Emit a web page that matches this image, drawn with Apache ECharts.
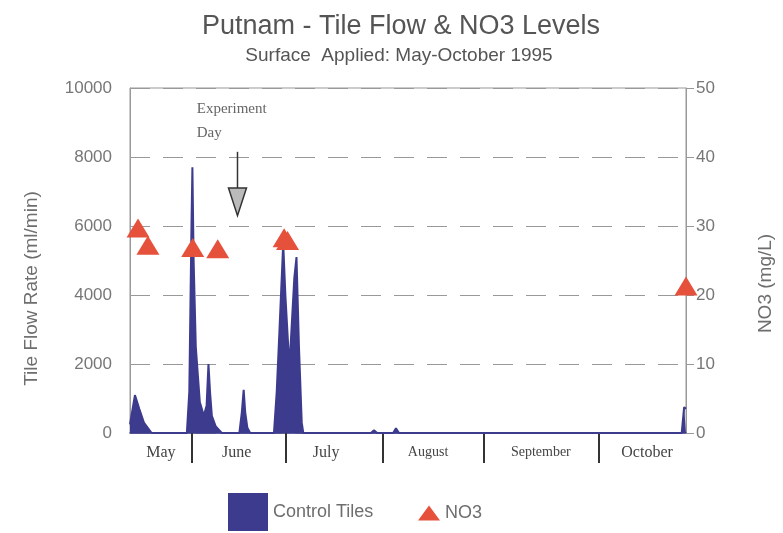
<!DOCTYPE html>
<html>
<head>
<meta charset="utf-8">
<script src="https://cdn.jsdelivr.net/npm/echarts@6/dist/echarts.min.js"></script>
<style>
  html, body { margin: 0; padding: 0; background: #fff; }
  #chart { width: 783px; height: 533px; }
</style>
</head>
<body>
<div id="chart"></div>
<script>
  // x is counted in days along the plotted season
  var flowDays   = [0, 1.6, 3, 4.5, 7,
                    18.4, 19.2, 19.9, 20.2, 20.6, 21.3, 22.6, 23.9, 24.8, 25.4, 25.9, 26.5, 27.7, 29.7,
                    35.4, 36.2, 36.8, 37.3, 38, 38.9,
                    46.6, 47.5, 48.4, 49.6, 50.3, 51.6, 53.2, 53.9, 54.7, 55.6, 56.1,
                    78, 79, 80, 85.2, 86.1, 87.1, 178.6, 179.4, 180];
  var flowValues = [250, 1100, 700, 300, 0,
                    0, 1200, 6000, 7700, 5000, 2500, 900, 500, 800, 2000, 1200, 500, 200, 0,
                    0, 600, 1250, 600, 150, 0,
                    0, 1200, 3000, 5500, 4000, 1900, 4500, 5100, 2500, 300, 0,
                    0, 80, 0, 0, 140, 0, 0, 750, 700];

  var no3Days   = [2.6, 5.8, 20.3, 28.4, 49.9, 51.0, 180];
  var no3Values = [29.7, 27.2, 26.9, 26.7, 28.3, 27.9, 21.3];

  var monthNames     = ['May', 'June', 'July', 'August', 'September', 'October'];
  var monthLabelDays = [10, 34.5, 63.5, 96.5, 133, 167.4];
  var monthBreakDays = [20, 50.3, 81.9, 114.5, 151.6];

  var experimentDay = 34.8;

  var navy = '#3d3b8e';
  var red = '#e5513b';
  var textGray = '#6e6e6e';

  function pairs(xs, ys) {
    return xs.map(function(x, i) { return [x, ys[i]]; });
  }

  var option = {
    animation: false,
    backgroundColor: '#fff',
    title: [{
      text: 'Putnam - Tile Flow & NO3 Levels',
      left: 396, top: 8, textAlign: 'center',
      textStyle: { fontFamily: 'Liberation Sans', fontSize: 27, fontWeight: 'normal', color: '#555' }
    }, {
      text: 'Surface  Applied: May-October 1995',
      left: 394, top: 41, textAlign: 'center',
      textStyle: { fontFamily: 'Liberation Sans', fontSize: 19, fontWeight: 'normal', color: '#555' }
    }],
    legend: [{
      data: ['Control Tiles'],
      left: 228, top: 493, padding: 0,
      icon: 'rect', itemWidth: 40, itemHeight: 38,
      textStyle: { fontFamily: 'Liberation Sans', fontSize: 18, color: textGray }
    }, {
      data: ['NO3'],
      left: 418, top: 504, padding: 0,
      icon: 'triangle', itemWidth: 22, itemHeight: 15,
      textStyle: { fontFamily: 'Liberation Sans', fontSize: 18, color: textGray }
    }],
    grid: {
      left: 130, right: 95, top: 88, bottom: 100,
      show: true, borderColor: '#999', borderWidth: 1
    },
    xAxis: {
      type: 'value', min: 0, max: 180,
      axisLine: { lineStyle: { color: navy, width: 1.5 } },
      axisTick: {
        show: true, customValues: monthBreakDays, length: 30,
        lineStyle: { color: '#333', width: 2 }
      },
      axisLabel: {
        customValues: monthLabelDays, margin: 12,
        fontFamily: 'Liberation Serif', fontSize: 16, color: '#444',
        formatter: function(v) {
          var name = monthNames[monthLabelDays.indexOf(v)];
          return name === 'August' || name === 'September' ? '{s|' + name + '}' : name;
        },
        rich: { s: { fontFamily: 'Liberation Serif', fontSize: 14, color: '#444' } }
      },
      splitLine: { show: false }
    },
    yAxis: [{
      type: 'value', min: 0, max: 10000, interval: 2000,
      name: 'Tile Flow Rate (ml/min)', nameLocation: 'middle', nameRotate: 90, nameGap: 89,
      nameTextStyle: { fontFamily: 'Liberation Sans', fontSize: 19, color: textGray, padding: [0, 56, 0, 0] },
      axisLine: { show: true, lineStyle: { color: '#999' } },
      axisTick: { show: false },
      axisLabel: {
        margin: 18, fontFamily: 'Liberation Sans', fontSize: 17, color: '#777',
        formatter: function(v) { return String(v); }
      },
      splitLine: { show: true, lineStyle: { color: '#999', type: [20, 13], width: 1.2 } }
    }, {
      type: 'value', min: 0, max: 50, interval: 10,
      name: 'NO3 (mg/L)', nameLocation: 'middle', nameRotate: 90, nameGap: 70,
      nameTextStyle: { fontFamily: 'Liberation Sans', fontSize: 19, color: textGray, padding: [0, 46, 0, 0] },
      axisLine: { show: true, lineStyle: { color: '#999' } },
      axisTick: { show: true, inside: false, length: 8, lineStyle: { color: '#999' } },
      axisLabel: { margin: 10, fontFamily: 'Liberation Sans', fontSize: 17, color: '#777' },
      splitLine: { show: false }
    }],
    series: [{
      name: 'Control Tiles',
      type: 'line',
      data: pairs(flowDays, flowValues),
      symbol: 'none',
      color: navy,
      lineStyle: { color: navy, width: 2 },
      areaStyle: { color: navy, opacity: 1 },
      z: 2
    }, {
      name: 'NO3',
      type: 'scatter',
      yAxisIndex: 1,
      data: pairs(no3Days, no3Values),
      symbol: 'triangle',
      symbolSize: [23, 19],
      itemStyle: { color: red, opacity: 1 },
      z: 3
    }]
  };

  var chart = echarts.init(document.getElementById('chart'));
  chart.setOption(option);

  // "Experiment Day" note and arrow, placed through the axes
  var px = function(day, flow) {
    return chart.convertToPixel({ xAxisIndex: 0, yAxisIndex: 0 }, [day, flow]);
  };
  var lineTop = px(experimentDay, 8150);
  var lineEnd = px(experimentDay, 7100);
  var tip = px(experimentDay, 6300);
  var note = px(21.6, 9740);

  chart.setOption({
    graphic: [{
      type: 'text',
      left: note[0], top: note[1],
      style: {
        text: 'Experiment\nDay', fill: '#666', lineHeight: 24,
        font: '15px "Liberation Serif"'
      }
    }, {
      type: 'line',
      shape: { x1: lineTop[0], y1: lineTop[1], x2: lineEnd[0], y2: lineEnd[1] },
      style: { stroke: '#333', lineWidth: 1.5 }
    }, {
      type: 'polygon',
      shape: { points: [[lineEnd[0] - 9, lineEnd[1]], [lineEnd[0] + 9, lineEnd[1]], [tip[0], tip[1]]] },
      style: { fill: '#bbb', stroke: '#333', lineWidth: 1.5 }
    }]
  });
</script>
</body>
</html>
